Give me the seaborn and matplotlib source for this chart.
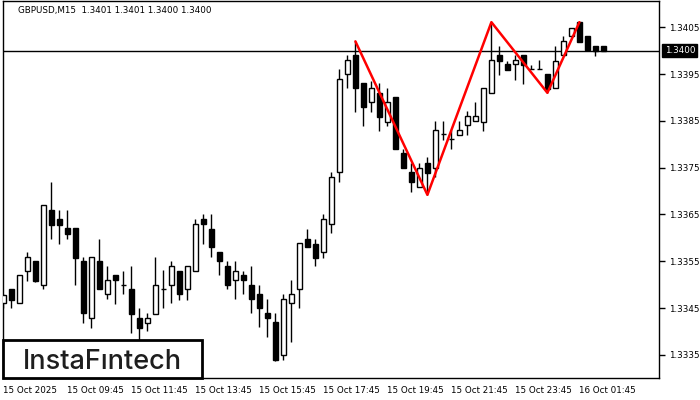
import numpy as np
import pandas as pd
import matplotlib
matplotlib.use('Agg')
import matplotlib.pyplot as plt
import seaborn as sns
from matplotlib.patches import Rectangle

# GBPUSD M15 candles (15 Oct 07:45 .. 16 Oct 02:30)
opens = [1.33460, 1.33490, 1.33460, 1.33529, 1.33550, 1.33499, 1.33660, 1.33640, 1.33621, 1.33621,
         1.33550, 1.33428, 1.33550, 1.33480, 1.33521, 1.33499, 1.33490, 1.33428, 1.33419, 1.33438,
         1.33490, 1.33499, 1.33530, 1.33490, 1.33530, 1.33640, 1.33620, 1.33570, 1.33540, 1.33510,
         1.33520, 1.33500, 1.33480, 1.33439, 1.33420, 1.33350, 1.33460, 1.33490, 1.33598, 1.33588,
         1.33570, 1.33629, 1.33741, 1.33950, 1.33991, 1.33930, 1.33890, 1.33909, 1.33848, 1.33900,
         1.33781, 1.33740, 1.33709, 1.33759, 1.33749, 1.33821, 1.33812, 1.33820, 1.33841, 1.33850,
         1.33848, 1.33909, 1.33991, 1.33972, 1.33971, 1.33991, 1.33961, 1.33961, 1.33950, 1.33920,
         1.33991, 1.34031, 1.34061, 1.34031, 1.34010, 1.34010]
highs = [1.33480, 1.33490, 1.33521, 1.33569, 1.33550, 1.33670, 1.33720, 1.33660, 1.33660, 1.33621,
         1.33559, 1.33559, 1.33598, 1.33540, 1.33521, 1.33529, 1.33540, 1.33450, 1.33439, 1.33559,
         1.33531, 1.33551, 1.33530, 1.33539, 1.33640, 1.33650, 1.33650, 1.33570, 1.33551, 1.33550,
         1.33530, 1.33540, 1.33500, 1.33469, 1.33439, 1.33480, 1.33510, 1.33590, 1.33620, 1.33598,
         1.33650, 1.33741, 1.33961, 1.33991, 1.34020, 1.33930, 1.33936, 1.33930, 1.33920, 1.33900,
         1.33791, 1.33759, 1.33759, 1.33772, 1.33850, 1.33850, 1.33831, 1.33850, 1.33871, 1.33891,
         1.33920, 1.34061, 1.34010, 1.33979, 1.33991, 1.33991, 1.33969, 1.33980, 1.33950, 1.34010,
         1.34031, 1.34049, 1.34061, 1.34031, 1.34010, 1.34010]
lows = [1.33450, 1.33450, 1.33460, 1.33508, 1.33505, 1.33490, 1.33598, 1.33588, 1.33598, 1.33499,
        1.33419, 1.33408, 1.33490, 1.33469, 1.33459, 1.33480, 1.33397, 1.33382, 1.33400, 1.33438,
        1.33450, 1.33460, 1.33467, 1.33467, 1.33530, 1.33588, 1.33559, 1.33520, 1.33490, 1.33469,
        1.33480, 1.33439, 1.33409, 1.33389, 1.33337, 1.33339, 1.33378, 1.33450, 1.33580, 1.33540,
        1.33558, 1.33610, 1.33719, 1.33920, 1.33870, 1.33840, 1.33870, 1.33829, 1.33840, 1.33789,
        1.33749, 1.33699, 1.33709, 1.33692, 1.33730, 1.33809, 1.33790, 1.33820, 1.33820, 1.33850,
        1.33829, 1.33909, 1.33948, 1.33959, 1.33937, 1.33929, 1.33961, 1.33961, 1.33910, 1.33920,
        1.33991, 1.34031, 1.34019, 1.34000, 1.33989, 1.34000]
closes = [1.33479, 1.33468, 1.33521, 1.33559, 1.33508, 1.33670, 1.33628, 1.33628, 1.33609, 1.33558,
          1.33439, 1.33559, 1.33490, 1.33509, 1.33509, 1.33499, 1.33438, 1.33408, 1.33428, 1.33499,
          1.33490, 1.33539, 1.33480, 1.33539, 1.33629, 1.33629, 1.33580, 1.33550, 1.33500, 1.33530,
          1.33510, 1.33469, 1.33450, 1.33428, 1.33339, 1.33469, 1.33480, 1.33590, 1.33580, 1.33558,
          1.33640, 1.33730, 1.33939, 1.33980, 1.33920, 1.33879, 1.33920, 1.33859, 1.33890, 1.33789,
          1.33749, 1.33719, 1.33749, 1.33739, 1.33831, 1.33821, 1.33812, 1.33831, 1.33860, 1.33860,
          1.33920, 1.33980, 1.33979, 1.33959, 1.33980, 1.33969, 1.33961, 1.33961, 1.33918, 1.33979,
          1.34021, 1.34049, 1.34019, 1.34002, 1.34000, 1.34000]

# double-top style zigzag drawn over the chart (bar index, price)
pattern_bar = [44, 53, 61, 68, 72]
pattern_price = [1.34020, 1.33692, 1.34061, 1.33910, 1.34061]

time_labels = ['15 Oct 2025', '15 Oct 09:45', '15 Oct 11:45', '15 Oct 13:45', '15 Oct 15:45',
               '15 Oct 17:45', '15 Oct 19:45', '15 Oct 21:45', '15 Oct 23:45', '16 Oct 01:45']
price_ticks = [1.3335, 1.3345, 1.3355, 1.3365, 1.3375, 1.3385, 1.3395, 1.3405]
last_price = 1.3400
title = 'GBPUSD,M15  1.3401 1.3401 1.3400 1.3400'

sns.set_style('white')
plt.rcParams['font.family'] = ['DejaVu Sans']

df = pd.DataFrame({'open': opens, 'high': highs, 'low': lows, 'close': closes})
df['bar'] = np.arange(len(df))

fig = plt.figure(figsize=(7, 4), dpi=100)
ax = fig.add_axes([3 / 700, 22 / 400, 656 / 700, 377 / 400])

# wicks
ax.vlines(df.bar, df.low, df.high, color='black', lw=1, zorder=2)
# bodies
up = df[df.close > df.open]
dn = df[df.close < df.open]
flat = df[df.close == df.open]
ax.bar(up.bar, up.close - up.open, bottom=up.open, width=0.6,
       color='white', edgecolor='black', linewidth=1, zorder=3)
ax.bar(dn.bar, dn.open - dn.close, bottom=dn.close, width=0.6,
       color='black', edgecolor='black', linewidth=1, zorder=3)
ax.hlines(flat.open, flat.bar - 0.35, flat.bar + 0.35, color='black', lw=1, zorder=3)

# current price line
ax.axhline(last_price, color='black', lw=1, zorder=1)

# pattern
pat = pd.DataFrame({'bar': pattern_bar, 'price': pattern_price})
sns.lineplot(data=pat, x='bar', y='price', color='#ff0000', lw=1.8, ax=ax,
             zorder=5, sort=False)

ax.set_xlim(-0.05, 81.95)
ax.set_ylim(1.333006, 1.341062)
ax.set_xlabel('')
ax.set_ylabel('')

ax.yaxis.tick_right()
ax.set_yticks(price_ticks)
ax.set_yticklabels([f'{p:.4f}' for p in price_ticks])
ax.set_xticks(np.arange(len(time_labels)) * 8)
ax.set_xticklabels(time_labels, ha='left')
ax.tick_params(axis='both', direction='out', length=4, width=1, color='black',
               labelsize=6.3, labelcolor='black')
ax.tick_params(axis='y', pad=3)
ax.tick_params(axis='x', pad=2)
for s in ax.spines.values():
    s.set_color('black')
    s.set_linewidth(1)

# last price marker box on the price scale
ax.annotate(f'{last_price:.4f}', xy=(1, last_price), xycoords=('axes fraction', 'data'),
            xytext=(4, 0), textcoords='offset points', va='center', ha='left',
            fontsize=6.3, color='white',
            bbox=dict(boxstyle='square,pad=0.25', fc='black', ec='black'))

fig.text(18 / 700, 1 - 10 / 400, title, fontsize=6.3, va='center', ha='left', color='black')

# logo box
fig.patches.append(Rectangle((3 / 700, 22 / 400), 199 / 700, 38 / 400, transform=fig.transFigure,
                             fc='white', ec='black', lw=2, zorder=10))
fig.text(102 / 700, 1 - 369 / 400, 'InstaF\u0131ntech', fontsize=19.5, family=['Inter', 'DejaVu Sans'],
         weight='medium', color='#1e1e1e', ha='center', va='baseline', zorder=11)

fig.savefig('out.png', dpi=100)
